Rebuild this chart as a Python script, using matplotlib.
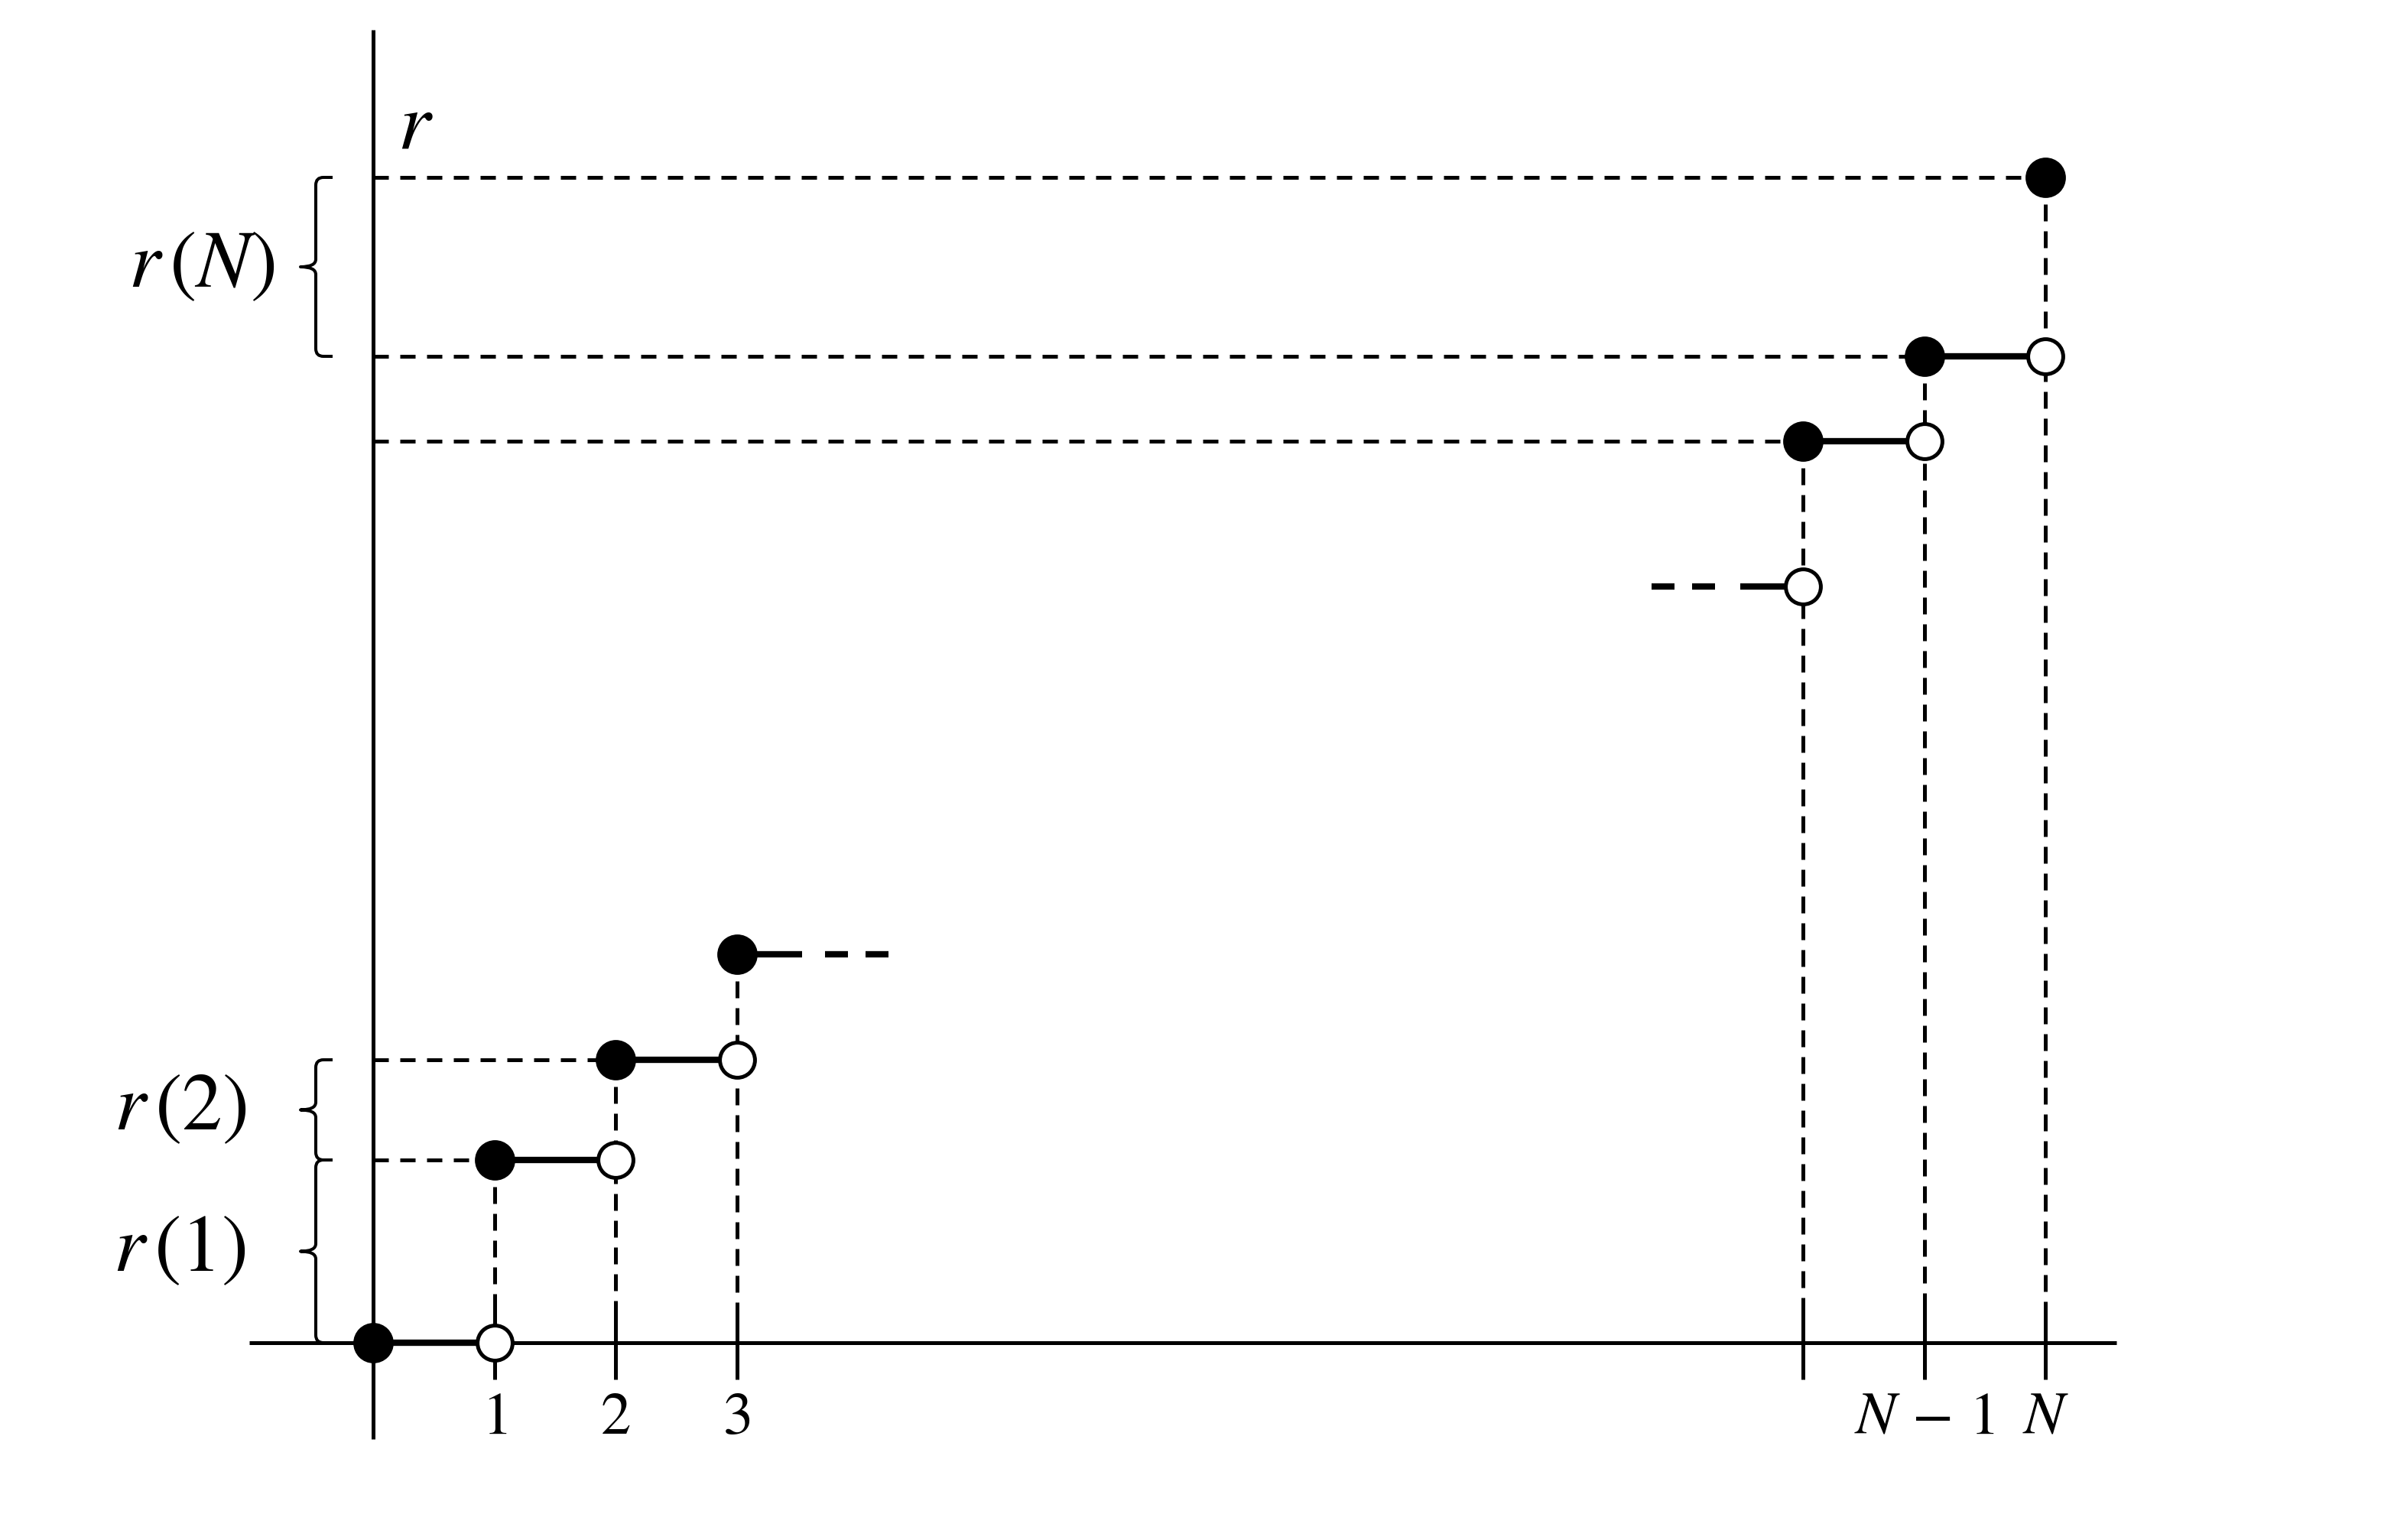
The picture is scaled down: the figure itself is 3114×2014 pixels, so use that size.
import matplotlib
matplotlib.use("Agg")
import matplotlib.pyplot as plt
from matplotlib.path import Path
from matplotlib.patches import PathPatch

plt.rcParams['mathtext.fontset'] = 'stix'
plt.rcParams['font.family'] = ['STIXGeneral', 'DejaVu Serif']

# ---- data -----------------------------------------------------------------
# step positions (x) and cumulative levels r
x_left = [0, 1, 2, 3]
r_left = [0.0, 2.39, 3.70, 5.08]          # value at x_left (filled dot)
x_right = [11.8, 12.8, 13.8]              # N-2, N-1, N
r_right_open = [9.89, 11.79, 12.90]       # left limit at x_right (open dot)
r_right_filled = [11.79, 12.90, 15.24]    # value at x_right (filled dot)

tick_pos = [1, 2, 3, 11.8, 12.8, 13.8]
tick_labels = ['$1$', '$2$', '$3$', '', r'$N\,-\,1$', '$N$']

brace_labels = [r'$r\,(1)$', r'$r\,(2)$', r'$r\,(N)$']
brace_spans = [(r_left[0], r_left[1]), (r_left[1], r_left[2]),
               (r_right_filled[1], r_right_filled[2])]
brace_label_right = [-1.05, -1.04, -0.81]

# ---- figure ----------------------------------------------------------------
PX = 158.5   # px per x unit
PY = 100.0   # px per y unit
fig = plt.figure(figsize=(31.14, 20.15), dpi=100)
ax = fig.add_axes([0, 0, 1, 1])
ax.set_xlim(-488 / PX, (3114 - 488) / PX)
ax.set_ylim(-(2015 - 1757) / PY, 1757 / PY)

for s in ['top', 'right']:
    ax.spines[s].set_visible(False)
ax.spines['left'].set_position(('data', 0))
ax.spines['bottom'].set_position(('data', 0))
ax.spines['left'].set_bounds(-1.26, 17.17)
ax.spines['bottom'].set_bounds(-1.02, 14.385)
for s in ['left', 'bottom']:
    ax.spines[s].set_linewidth(3.6)
    ax.spines[s].set_capstyle('butt')

ax.set_yticks([])
ax.set_xticks(tick_pos, tick_labels)
ax.tick_params(axis='x', direction='inout', length=69, width=3.6,
               labelsize=57, pad=12)

LW_D = 3.6   # dashed guides
LW_S = 6.0   # step segments
MS_F = 38
MS_O = 33
h_dash = (0, (4.0, 3.0))
v_dash = (0, (4.4, 2.6))

def hguide(x, y):
    ax.plot([0, x], [y, y], color='black', lw=LW_D, linestyle=h_dash,
            dash_capstyle='butt', zorder=3, clip_on=False)

def vguide(x, y):
    ax.plot([x, x], [y, 0], color='black', lw=LW_D, linestyle=v_dash,
            dash_capstyle='butt', zorder=3, clip_on=False)

def filled(x, y):
    ax.plot([x], [y], marker='o', ms=MS_F, color='black', mew=0, zorder=6,
            clip_on=False)

def opened(x, y):
    ax.plot([x], [y], marker='o', ms=MS_O, mfc='white', mec='black',
            mew=3.6, zorder=6, clip_on=False)

def seg(x0, x1, y):
    ax.plot([x0, x1], [y, y], color='black', lw=LW_S,
            solid_capstyle='butt', zorder=4, clip_on=False)

# left part
for i in range(len(x_left) - 1):
    seg(x_left[i], x_left[i + 1], r_left[i])
    filled(x_left[i], r_left[i])
    opened(x_left[i + 1], r_left[i])
for i in range(1, len(x_left)):
    vguide(x_left[i], r_left[i])
for i in range(1, len(x_left) - 1):
    hguide(x_left[i], r_left[i])
filled(x_left[-1], r_left[-1])
# continuation after x=3
ext = 198 / PX
ax.plot([x_left[-1], x_left[-1] + ext], [r_left[-1]] * 2, color='black',
        lw=LW_S, linestyle=(0, (10.2, 3.6, 3.6, 2.76)), dash_capstyle='butt',
        zorder=4)

# right part
ax.plot([x_right[0] - ext, x_right[0]], [r_right_open[0]] * 2, color='black',
        lw=LW_S, linestyle=(0, (3.6, 2.76, 3.6, 3.96, 30, 1)),
        dash_capstyle='butt', zorder=4)
opened(x_right[0], r_right_open[0])
for i in range(len(x_right)):
    vguide(x_right[i], r_right_filled[i])
    hguide(x_right[i], r_right_filled[i])
    filled(x_right[i], r_right_filled[i])
for i in range(len(x_right) - 1):
    seg(x_right[i], x_right[i + 1], r_right_filled[i])
    opened(x_right[i + 1], r_right_open[i + 1])

# braces
xv = (413 - 488) / PX
xr = (435 - 488) / PX
xn = (393 - 488) / PX
cx = 10 / PX
cy = 10 / PY

def brace(y0, y1):
    ym = (y0 + y1) / 2
    verts = [(xr, y1), (xv + cx, y1), (xv, y1), (xv, y1 - cy),
             (xv, ym + cy), (xv, ym), (xn, ym),
             (xv, ym), (xv, ym - cy),
             (xv, y0 + cy), (xv, y0), (xv + cx, y0), (xr, y0)]
    codes = [Path.MOVETO, Path.LINETO, Path.CURVE3, Path.CURVE3,
             Path.LINETO, Path.CURVE3, Path.CURVE3,
             Path.CURVE3, Path.CURVE3,
             Path.LINETO, Path.CURVE3, Path.CURVE3, Path.LINETO]
    ax.add_patch(PathPatch(Path(verts, codes), fill=False, lw=2.9,
                           edgecolor='black', capstyle='butt',
                           joinstyle='round', clip_on=False))

for (y0, y1), lab, xlab in zip(brace_spans, brace_labels, brace_label_right):
    brace(y0, y1)
    ax.text(xlab, (y0 + y1) / 2, lab, ha='right', va='center', fontsize=76)

ax.text(0.2, (1757 - 195) / PY, '$r$', ha='left', va='baseline', fontsize=78)

fig.savefig('out.png', dpi=100, facecolor='white')
